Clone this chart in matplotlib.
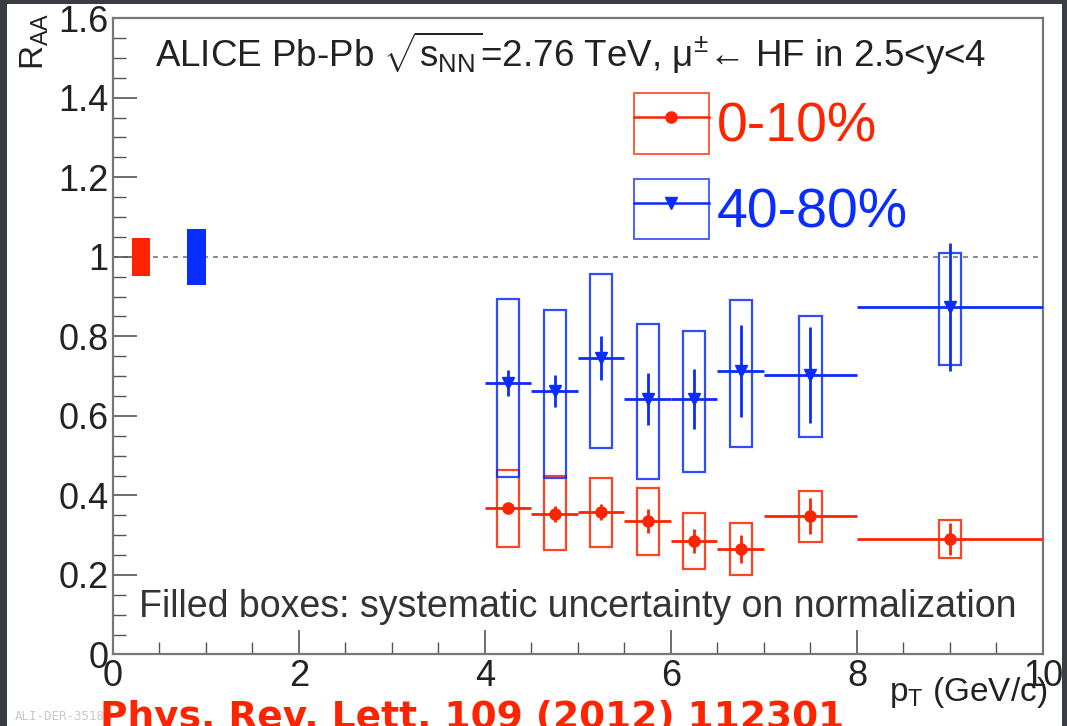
import numpy as np
import matplotlib.pyplot as plt
from matplotlib.patches import Rectangle
from matplotlib.lines import Line2D
from matplotlib.legend_handler import HandlerTuple
from matplotlib.ticker import MultipleLocator, FuncFormatter

plt.rcParams['font.family'] = ['Liberation Sans', 'DejaVu Sans']
plt.rcParams['mathtext.fontset'] = 'custom'
plt.rcParams['mathtext.rm'] = 'Liberation Sans'
plt.rcParams['mathtext.it'] = 'Liberation Sans:italic'

# pT bins (GeV/c)
pt_lo = [4.0, 4.5, 5.0, 5.5, 6.0, 6.5, 7.0, 8.0]
pt_hi = [4.5, 5.0, 5.5, 6.0, 6.5, 7.0, 8.0, 10.0]
pt_mean = [4.25, 4.75, 5.25, 5.75, 6.25, 6.75, 7.5, 9.0]

# 0-10% centrality
raa_central = [0.368, 0.354, 0.358, 0.336, 0.286, 0.266, 0.348, 0.290]
central_stat = [0.012, 0.020, 0.020, 0.030, 0.030, 0.035, 0.045, 0.040]
central_sys_lo = [0.270, 0.263, 0.270, 0.250, 0.215, 0.200, 0.283, 0.243]
central_sys_hi = [0.465, 0.449, 0.444, 0.419, 0.356, 0.331, 0.411, 0.339]

# 40-80% centrality
raa_periph = [0.683, 0.663, 0.746, 0.643, 0.643, 0.713, 0.703, 0.874]
periph_stat = [0.032, 0.040, 0.055, 0.065, 0.075, 0.115, 0.120, 0.160]
periph_sys_lo = [0.447, 0.444, 0.520, 0.440, 0.459, 0.522, 0.547, 0.728]
periph_sys_hi = [0.894, 0.867, 0.957, 0.831, 0.814, 0.891, 0.852, 1.010]

# normalisation uncertainties (filled boxes at RAA = 1)
norm_x = [0.3, 0.9]
norm_unc = [0.048, 0.070]

red = '#ff2400'
blue = '#0a2dff'

fig = plt.figure(figsize=(10.67, 7.26), dpi=100, facecolor='#3b3d44')
fig.patches.append(Rectangle((7 / 1067, 0), 1055 / 1067, 722 / 726,
                             transform=fig.transFigure, facecolor='white',
                             edgecolor='none', zorder=-10))
ax = fig.add_axes([0.1059, 0.0985, 0.8716, 0.8765])

ax.axhline(1, color='#777777', lw=1.2, ls=(0, (3, 3)), zorder=1)

series = [
    (raa_central, central_stat, central_sys_lo, central_sys_hi, red, 'o', 8, '0-10%'),
    (raa_periph, periph_stat, periph_sys_lo, periph_sys_hi, blue, 'v', 8, '40-80%'),
]
handles = []
for raa, stat, lo, hi, col, mk, ms, lab in series:
    raa = np.array(raa)
    lo = np.array(lo)
    hi = np.array(hi)
    ax.bar(pt_mean, hi - lo, bottom=lo, width=0.24, fill=False,
           edgecolor=col, lw=1.6, alpha=0.85, zorder=2)
    xerr = [np.array(pt_mean) - np.array(pt_lo), np.array(pt_hi) - np.array(pt_mean)]
    ax.errorbar(pt_mean, raa, yerr=stat, xerr=xerr, fmt=mk, color=col, ms=ms,
                lw=2, capsize=0, zorder=3)
    box = Rectangle((0, 0), 1, 1, fill=False, edgecolor=col, lw=1.3, alpha=0.8)
    line = Line2D([], [], color=col, lw=1.8, marker=mk, ms=8)
    handles.append(((box, line), lab, col))

for xc, u, col in zip(norm_x, norm_unc, [red, blue]):
    ax.bar(xc, 2 * u, bottom=1 - u, width=0.2, color=col, zorder=2)

ax.set_xlim(0, 10)
ax.set_ylim(0, 1.6)
ax.xaxis.set_major_locator(MultipleLocator(2))
ax.xaxis.set_minor_locator(MultipleLocator(0.5))
ax.yaxis.set_major_locator(MultipleLocator(0.2))
ax.yaxis.set_minor_locator(MultipleLocator(0.05))
ax.yaxis.set_major_formatter(FuncFormatter(lambda v, p: '%g' % round(v, 2)))
ax.tick_params(which='both', direction='in', top=False, right=False,
               color='#555555', labelsize=26, labelcolor='#222222')
ax.tick_params(which='major', length=17, width=1.2, pad=3)
ax.tick_params(which='minor', length=9, width=1.0)
for s in ax.spines.values():
    s.set_color('#777777')
    s.set_linewidth(1.6)

ax.text(0.045, 0.982,
        r'ALICE Pb-Pb $\sqrt{\mathrm{s}_{\mathrm{NN}}}$=2.76 TeV, μ$^{\pm}$← HF in 2.5<y<4',
        transform=ax.transAxes, fontsize=26.5, color='#222222', va='top', ha='left')
ax.text(0.5, 0.075, 'Filled boxes: systematic uncertainty on normalization',
        transform=ax.transAxes, fontsize=27, color='#333333', ha='center', va='center')

leg = ax.legend([h[0] for h in handles], [h[1] for h in handles],
                handler_map={tuple: HandlerTuple(ndivide=1)},
                loc='upper left', bbox_to_anchor=(0.53, 0.926), frameon=False,
                fontsize=40, handlelength=1.35, handleheight=1.3, handletextpad=0.15,
                labelspacing=0.45, borderpad=0)
for txt, h in zip(leg.get_texts(), handles):
    txt.set_color(h[2])

fig.text(35 / 1067, 1 - 12 / 726, r'R$_{\mathrm{AA}}$', rotation=90, fontsize=24,
         color='#222222', ha='center', va='top')
fig.text(1047 / 1067, 1 - 692 / 726, r'p$_{\mathrm{T}}$ (GeV/c)', fontsize=24,
         color='#222222', ha='right', va='center')

fig.text(15 / 1067, 1 - 716 / 726, 'ALI-DER-35189', fontsize=9, color='#c8c8c8',
         family='DejaVu Sans Mono', ha='left', va='center')
fig.text(100 / 1067, 1 - 718 / 726, 'Phys. Rev. Lett. 109 (2012) 112301', fontsize=27,
         color=red, weight='bold', family='DejaVu Sans', ha='left', va='center')

fig.savefig('out.png', dpi=100, facecolor=fig.get_facecolor())
